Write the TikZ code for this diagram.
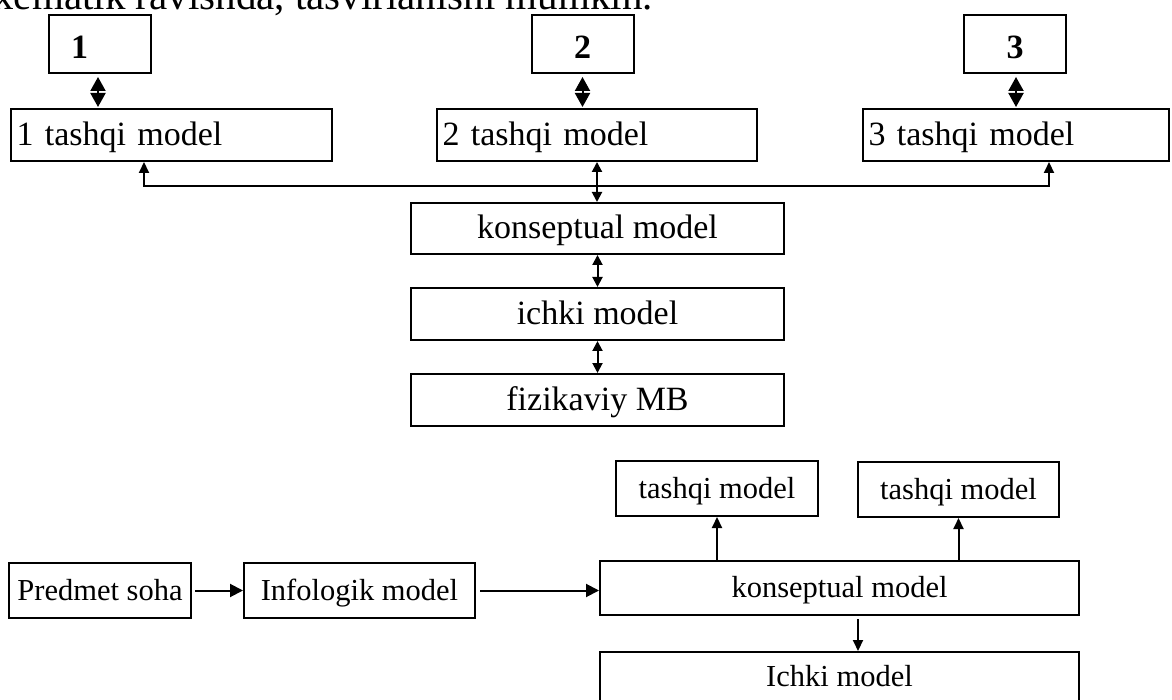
\documentclass[tikz,border=0pt]{standalone}
\usepackage{fontspec}
\setmainfont{Liberation Serif}
\usetikzlibrary{arrows.meta,calc}
\begin{document}
\begin{tikzpicture}[x=1pt,y=-1pt,
  box/.style={draw, line width=2pt, rectangle, inner sep=0pt,
    font=\fontsize{34}{40}\selectfont, text height=21pt, text depth=0pt},
  smallbox/.style={box, font=\fontsize{30.5}{36}\selectfont, text height=19pt},
  lbox/.style={box, align=left, inner xsep=5.5pt, minimum height=52pt},
  numbox/.style={box, font=\fontsize{34}{40}\selectfont\bfseries,
    text height=30pt, minimum width=102pt, minimum height=58pt},
  bigtwo/.style={{Triangle[length=14pt,width=15pt]}-{Triangle[length=14pt,width=15pt]}, line width=2pt},
  twoway/.style={{Triangle[length=10pt,width=10pt]}-{Triangle[length=10pt,width=10pt]}, line width=2pt},
  oneway/.style={-{Triangle[length=11pt,width=10pt]}, line width=2pt},
  flow/.style={-{Triangle[length=13pt,width=13pt]}, line width=2pt}]
\useasboundingbox (0,0) rectangle (1172,700);
\clip (0,0) rectangle (1172,700);

% line of running text above the scheme
\node[anchor=base east, inner sep=0pt, font=\fontsize{41}{48}\selectfont] (line) at (653,10)
  {sxematik ravishda, tasvirlanishi mumkin.};

% users
\node[numbox, align=left, text width=58pt, inner xsep=22pt] (u1) at (100,44) {1};
\node[numbox] (u2) at (582.5,44) {2};
\node[numbox] (u3) at (1015,44) {3};

% external models
\node[lbox, text width=310pt] (t1) at (171.5,135) {1 tashqi model};
\node[lbox, text width=309pt] (t2) at (597,135) {2 tashqi model};
\node[lbox, text width=295pt] (t3) at (1016,135) {3 tashqi model};

% conceptual, internal and physical levels
\node[box, minimum width=373pt, minimum height=51pt] (k1) at (597.5,228.5) {konseptual model};
\node[box, minimum width=373pt, minimum height=52pt] (i1) at (597.5,314) {ichki model};
\node[box, minimum width=373pt, minimum height=52pt] (f1) at (597.5,400) {fizikaviy MB};

% links users <-> external models
\draw[bigtwo] ($(u1.south)+(-2,3)$) -- ($(u1.south |- t1.north)+(-2,-1)$);
\draw[bigtwo] ($(u2.south)+(0,3)$) -- ($(u2.south |- t2.north)+(0,-1)$);
\draw[bigtwo] ($(u3.south)+(1,3)$) -- ($(u3.south |- t3.north)+(1,-1)$);

% conceptual model feeds all external models
\coordinate (j) at (597,186);
\coordinate (j1) at (144,186);
\coordinate (j3) at (1049,186);
\draw[twoway] (t2.south) -- (t2.south |- k1.north);
\draw[oneway] (j) -- (j1) -- (j1 |- t1.south);
\draw[oneway] (j) -- (j3) -- (j3 |- t3.south);
\draw[twoway] (k1.south) -- (i1.north);
\draw[twoway] (i1.south) -- (f1.north);

% design chain
\node[smallbox, minimum width=182pt, minimum height=55pt] (p) at (100,590.5) {Predmet soha};
\node[smallbox, minimum width=231pt, minimum height=55pt] (inf) at (359.5,590.5) {Infologik model};
\node[smallbox, minimum width=479pt, minimum height=54pt] (k2) at (839.5,588) {konseptual model};
\node[smallbox, minimum width=202pt, minimum height=55pt] (ts1) at (717,488.5) {tashqi model};
\node[smallbox, minimum width=201pt, minimum height=55pt] (ts2) at (958.5,489.5) {tashqi model};
\node[smallbox, minimum width=479pt, minimum height=50pt] (ich) at (839.5,677) {Ichki model};

\draw[flow] ([xshift=3pt]p.east) -- (inf.west);
\draw[flow] ([xshift=4pt]inf.east) -- (inf.east -| k2.west);
\draw[oneway] (k2.north -| ts1.south) -- (ts1.south);
\draw[oneway] (k2.north -| ts2.south) -- (ts2.south);
\draw[oneway] ($(k2.south)+(18.5,3)$) -- ($(k2.south |- ich.north)+(18.5,0)$);
\end{tikzpicture}
\end{document}
